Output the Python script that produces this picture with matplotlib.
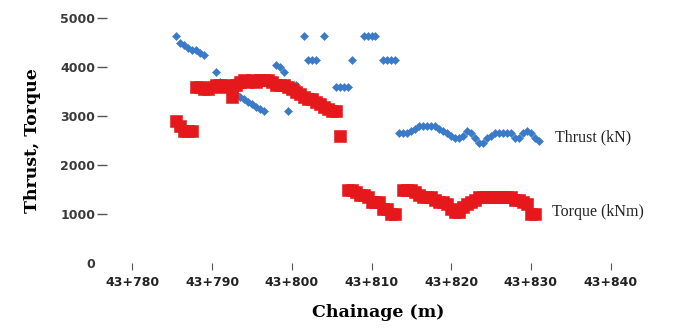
import numpy as np
import matplotlib
matplotlib.use("Agg")
import matplotlib.pyplot as plt

# thrust readings (kN) along the drive
thrust_ch = [785.5, 786, 786.5, 787, 787.5, 788, 788.5, 789,
             790.5, 791, 791.5, 792, 792.5, 793,
             793.5, 794, 794.5, 795, 795.5, 796, 796.5,
             798, 798.5, 799, 799.5, 800.5,
             801.5, 802, 802.5, 803, 804,
             805.5, 806, 806.5, 807, 807.5,
             809, 809.5, 810, 810.5,
             811.5, 812, 812.5, 813,
             813.5, 814, 814.5, 815, 815.5, 816, 816.5, 817, 817.5, 818,
             818.5, 819, 819.5, 820, 820.5, 821, 821.5, 822, 822.5, 823,
             823.5, 824, 824.5, 825, 825.5, 826, 826.5, 827, 827.5, 828,
             828.5, 829, 829.5, 830, 830.5, 831]
thrust = [4650, 4500, 4450, 4400, 4350, 4350, 4300, 4250,
          3900, 3700, 3600, 3550, 3500, 3450,
          3400, 3350, 3300, 3250, 3200, 3150, 3100,
          4050, 4000, 3900, 3100, 3650,
          4650, 4150, 4150, 4150, 4650,
          3600, 3600, 3600, 3600, 4150,
          4650, 4650, 4650, 4650,
          4150, 4150, 4150, 4150,
          2650, 2650, 2650, 2700, 2750, 2800, 2800, 2800, 2800, 2800,
          2750, 2700, 2650, 2600, 2550, 2550, 2600, 2700, 2650, 2550,
          2450, 2450, 2550, 2600, 2650, 2650, 2650, 2650, 2650, 2550,
          2550, 2650, 2700, 2650, 2550, 2500]

# torque readings (kNm)
torque_ch = [785.5, 786, 786.5, 787, 787.5,
             788, 788.5, 789, 789.5, 790, 790.5, 791, 791.5, 792, 792.5,
             793, 793.5, 794, 794.5, 795, 795.5, 796, 796.5, 797, 797.5,
             798, 798.5, 799, 799.5, 800, 800.5, 801, 801.5, 802, 802.5,
             803, 803.5, 804, 804.5, 805, 805.5, 806,
             807, 807.5, 808, 808.5, 809, 809.5, 810, 810.5, 811, 811.5,
             812, 812.5, 813,
             814, 814.5, 815, 815.5, 816, 816.5, 817, 817.5, 818, 818.5,
             819, 819.5, 820, 820.5, 821, 821.5, 822, 822.5, 823, 823.5,
             824, 824.5, 825, 825.5, 826, 826.5, 827, 827.5, 828, 828.5,
             829, 829.5, 830, 830.5]
torque = [2900, 2800, 2700, 2700, 2700,
          3600, 3600, 3550, 3550, 3600, 3650, 3650, 3600, 3650, 3400,
          3650, 3700, 3750, 3700, 3750, 3700, 3750, 3750, 3750, 3700,
          3650, 3650, 3650, 3600, 3550, 3500, 3450, 3400, 3350, 3350,
          3300, 3250, 3200, 3150, 3100, 3100, 2600,
          1500, 1500, 1450, 1400, 1400, 1350, 1250, 1250, 1250, 1100,
          1100, 1000, 1000,
          1500, 1500, 1500, 1450, 1400, 1350, 1350, 1350, 1300, 1250,
          1250, 1200, 1100, 1050, 1050, 1150, 1200, 1250, 1300, 1350,
          1350, 1350, 1350, 1350, 1350, 1350, 1350, 1350, 1300, 1300,
          1250, 1200, 1000, 1000]

x_ticks = [780, 790, 800, 810, 820, 830, 840]
x_labels = ["43+%d" % t for t in x_ticks]
y_ticks = [0, 1000, 2000, 3000, 4000, 5000]

blue = "#3b7ac8"
red = "#e5191c"

fig = plt.figure(figsize=(6.75, 3.29), dpi=100)
ax = fig.add_axes([0.1585, 0.2, 0.805, 0.744])

ax.plot(thrust_ch, thrust, linestyle="none", marker="D", ms=4.5,
        mec=blue, mew=0.4, color=blue, zorder=2)
ax.plot(torque_ch, torque, linestyle="none", marker="s", ms=8,
        mec=red, mew=0.4, color=red, zorder=3)

ax.text(833.0, 2580, "Thrust (kN)", fontsize=11.5, family="Liberation Serif",
        va="center", ha="left", color="#222222")
ax.text(832.6, 1050, "Torque (kNm)", fontsize=11.5, family="Liberation Serif",
        va="center", ha="left", color="#222222")

ax.set_xlim(776.8, 845)
ax.set_ylim(0, 5000)
for s in ax.spines.values():
    s.set_visible(False)

ax.set_xticks(x_ticks)
ax.set_xticklabels(x_labels)
ax.set_yticks(y_ticks)
ax.set_yticklabels([str(v) for v in y_ticks])
ax.tick_params(axis="x", direction="out", length=5, width=0.8,
               colors="#555555", labelcolor="#222222", pad=4)
ax.tick_params(axis="y", direction="out", length=7, width=1.0,
               colors="#555555", labelcolor="#3a3a3a", pad=1.5)
for lab in ax.get_xticklabels() + ax.get_yticklabels():
    lab.set_fontsize(9)
    lab.set_fontweight("bold")
ax.yaxis.get_major_ticks()[0].tick1line.set_visible(False)

ax.set_xlabel("Chainage (m)", family="DejaVu Serif", fontweight="bold",
              fontsize=12.5, labelpad=11)
ax.set_ylabel("Thrust, Torque", family="DejaVu Serif", fontweight="bold",
              fontsize=12.5, labelpad=14)

fig.savefig("out.png", dpi=100)
